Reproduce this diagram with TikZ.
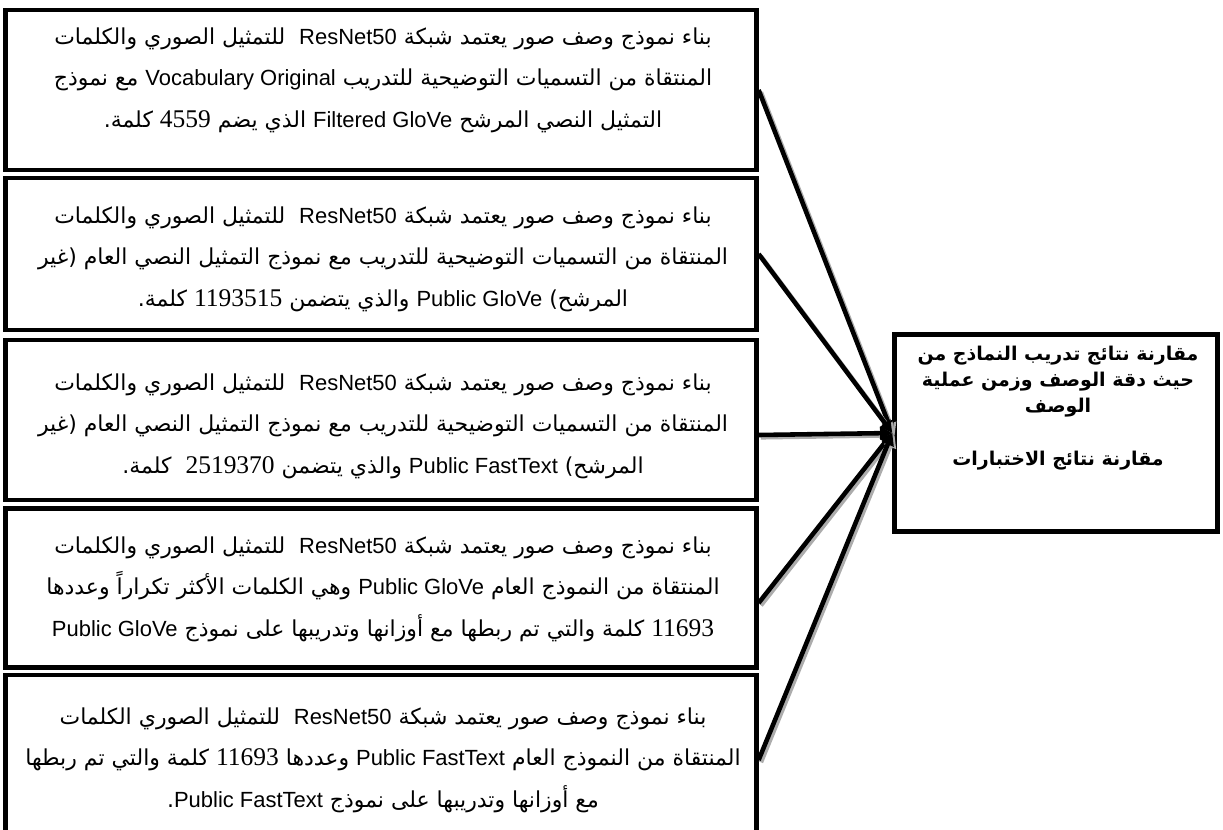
\documentclass[tikz,border=0pt]{standalone}
\usepackage{fontspec}
\usepackage{tikz}
\usetikzlibrary{arrows.meta, positioning, shadows}
\TeXXeTstate=1
\newfontfamily\arabicfont[Script=Arabic]{DejaVu Sans}
\newfontfamily\latfont{Liberation Sans}
\newfontfamily\numfont{Liberation Serif}
\newcommand{\ltr}[1]{\beginL{\latfont #1}\endL}
\newcommand{\nmb}[1]{\beginL{\numfont\fontsize{14.5}{23.6}\selectfont #1}\endL}
\newcommand{\rtl}[1]{\beginR #1\endR}

\begin{document}
\begin{tikzpicture}[
  x=0.02cm, y=-0.02cm,
  >=Triangle,
  mbox/.style={draw, line width=2.5pt, fill=white, minimum width=15.02cm,
               minimum height=#1, inner sep=0pt,
               drop shadow={shadow xshift=1.3pt, shadow yshift=-1.3pt, fill=gray!75, opacity=1}},
  rbox/.style={draw, line width=2.5pt, fill=white, minimum width=6.46cm,
               minimum height=3.94cm, inner sep=0pt},
  txt/.style={font=\arabicfont\fontsize{12.5}{23.6}\selectfont, align=center, inner sep=0pt},
  rtxt/.style={font=\arabicfont\bfseries\fontsize{10.8}{14.9}\selectfont, align=center, inner sep=0pt},
  link/.style={line width=2.6pt, -{Triangle[length=7pt,width=7pt]},
               preaction={draw=gray!65, line width=2.6pt,
                          transform canvas={xshift=1.3pt, yshift=-1.3pt}}},
]
  \useasboundingbox (0,0) rectangle (1223,829);
  \clip (0,0) rectangle (1223,829);

  % --- model boxes (left) -----------------------------------------
  \node[mbox=3.2cm]  (b1) at (381,90)  {};
  \node[mbox=3.04cm] (b2) at (381,254) {};
  \node[mbox=3.2cm]  (b3) at (381,420) {};
  \node[mbox=3.18cm] (b4) at (381,588) {};
  \node[mbox=3.4cm]  (b5) at (381,760) {};

  \node[txt] (t1) at (383,80) {%
    \rtl{بناء نموذج وصف صور يعتمد شبكة \ltr{ResNet50}\ \ للتمثيل الصوري والكلمات}\\
    \rtl{المنتقاة من التسميات التوضيحية للتدريب \ltr{Vocabulary Original} مع نموذج}\\
    \rtl{التمثيل النصي المرشح \ltr{Filtered GloVe} الذي يضم \nmb{4559} كلمة.}};
  \node[txt] (t2) at (383,259) {%
    \rtl{بناء نموذج وصف صور يعتمد شبكة \ltr{ResNet50}\ \ للتمثيل الصوري والكلمات}\\
    \rtl{المنتقاة من التسميات التوضيحية للتدريب مع نموذج التمثيل النصي العام (غير}\\
    \rtl{المرشح) \ltr{Public GloVe} والذي يتضمن \nmb{1193515} كلمة.}};
  \node[txt] (t3) at (383,426) {%
    \rtl{بناء نموذج وصف صور يعتمد شبكة \ltr{ResNet50}\ \ للتمثيل الصوري والكلمات}\\
    \rtl{المنتقاة من التسميات التوضيحية للتدريب مع نموذج التمثيل النصي العام (غير}\\
    \rtl{المرشح) \ltr{Public FastText} والذي يتضمن \nmb{2519370}\ \ كلمة.}};
  \node[txt] (t4) at (383,589) {%
    \rtl{بناء نموذج وصف صور يعتمد شبكة \ltr{ResNet50}\ \ للتمثيل الصوري والكلمات}\\
    \rtl{المنتقاة من النموذج العام \ltr{Public GloVe} وهي الكلمات الأكثر تكراراً وعددها}\\
    \rtl{\nmb{11693} كلمة والتي تم ربطها مع أوزانها وتدريبها على نموذج \ltr{Public GloVe}}};
  \node[txt] (t5) at (383,760) {%
    \rtl{بناء نموذج وصف صور يعتمد شبكة \ltr{ResNet50}\ \ للتمثيل الصوري الكلمات}\\
    \rtl{المنتقاة من النموذج العام \ltr{Public FastText} وعددها \nmb{11693} كلمة والتي تم ربطها}\\
    \rtl{مع أوزانها وتدريبها على نموذج \ltr{Public FastText}.}};

  % --- comparison box (right) -------------------------------------
  \node[rbox] (res) at (1056,433) {};
  \node[rtxt] (rt) at (1058,408) {%
    \rtl{مقارنة نتائج تدريب النماذج من}\\
    \rtl{حيث دقة الوصف وزمن عملية}\\
    \rtl{الوصف}\\[14.9pt]
    \rtl{مقارنة نتائج الاختبارات}};

  % --- connectors --------------------------------------------------
  \draw[link] (b1.east) -- (res.west);
  \draw[link] (b2.east) -- (res.west);
  \draw[link] ([yshift=-0.3cm]b3.east) -- (res.west);
  \draw[link] ([yshift=-0.3cm]b4.east) -- (res.west);
  \draw[link] (b5.east) -- (res.west);
\end{tikzpicture}
\end{document}
